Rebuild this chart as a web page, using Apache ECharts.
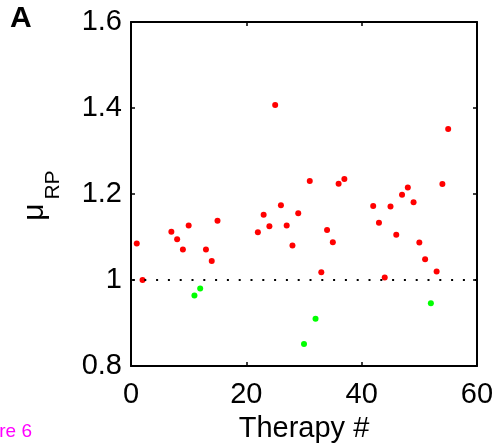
<!DOCTYPE html>
<html>
<head>
<meta charset="utf-8">
<script src="https://cdn.jsdelivr.net/npm/echarts@6/dist/echarts.min.js"></script>
<style>
  html, body { margin: 0; padding: 0; background: #fff; }
  #main { width: 498px; height: 448px; }
</style>
</head>
<body>
<div id="main"></div>
<script>
// therapies with mu_RP >= 1 (red)
const redTherapy = [1, 2, 7, 8, 9, 10, 13, 14, 15, 22, 23, 24, 25, 26, 27, 28, 29, 31, 33, 34, 35, 36, 37,
  42, 43, 44, 45, 46, 47, 48, 49, 50, 51, 53, 54, 55];
const redMu = [1.085, 1.0, 1.112, 1.095, 1.071, 1.127, 1.071, 1.044, 1.138, 1.111, 1.152, 1.125, 1.407, 1.174,
  1.127, 1.08, 1.155, 1.23, 1.018, 1.116, 1.088, 1.224, 1.235,
  1.172, 1.133, 1.006, 1.171, 1.105, 1.198, 1.215, 1.181, 1.087, 1.048, 1.02, 1.223, 1.351];
// therapies with mu_RP < 1 (green)
const greenTherapy = [11, 12, 30, 32, 52];
const greenMu = [0.964, 0.98, 0.851, 0.91, 0.946];

const xTicks = [0, 60, 20];   // min, max, interval
const yTicks = [0.8, 1.6, 0.2];
const refLine = 1;

const font = 'Liberation Sans, Arial, Helvetica, sans-serif';
const chart = echarts.init(document.getElementById('main'), null, { renderer: 'canvas' });

function pairs(xs, ys) {
  return xs.map((x, i) => [x, ys[i]]);
}

const boxAxis = {
  axisLine: { show: true, onZero: false, lineStyle: { color: '#000', width: 2 } },
  axisTick: { show: true, inside: true, length: 4, lineStyle: { color: '#000', width: 1.5 } },
  splitLine: { show: false }
};

chart.setOption({
  animation: false,
  backgroundColor: '#fff',
  grid: { left: 131, right: 21, top: 22, bottom: 81 },
  xAxis: [
    Object.assign({
      type: 'value', min: xTicks[0], max: xTicks[1], interval: xTicks[2],
      name: 'Therapy #', nameLocation: 'middle', nameGap: 48,
      nameTextStyle: { fontFamily: font, fontSize: 29, color: '#000' },
      axisLabel: { fontFamily: font, fontSize: 29, color: '#000', margin: 14 }
    }, boxAxis),
    Object.assign({
      type: 'value', position: 'top', min: xTicks[0], max: xTicks[1], interval: xTicks[2],
      axisLabel: { show: false }
    }, boxAxis)
  ],
  yAxis: [
    Object.assign({
      type: 'value', min: yTicks[0], max: yTicks[1], interval: yTicks[2],
      axisLabel: { fontFamily: font, fontSize: 29, color: '#000', margin: 9 }
    }, boxAxis),
    Object.assign({
      type: 'value', position: 'right', min: yTicks[0], max: yTicks[1], interval: yTicks[2],
      axisLabel: { show: false }
    }, boxAxis)
  ],
  graphic: [
    { type: 'text', left: 10, top: 4,
      style: { text: 'A', fontFamily: font, fontSize: 30, fontWeight: 'bold', fill: '#000' } },
    { type: 'text', x: 35, y: 212, rotation: Math.PI / 2,
      style: { text: 'μ', fontFamily: font, fontSize: 30, fill: '#000', align: 'center', verticalAlign: 'middle' } },
    { type: 'text', x: 53, y: 185, rotation: Math.PI / 2,
      style: { text: 'RP', fontFamily: font, fontSize: 21, fill: '#000', align: 'center', verticalAlign: 'middle' } },
    { type: 'text', x: 32, y: 432,
      style: { text: 'Figure 6', fontFamily: font, fontSize: 19, fill: '#ff00ff', align: 'right', verticalAlign: 'middle' } }
  ],
  series: [
    {
      type: 'scatter', xAxisIndex: 0, yAxisIndex: 0,
      symbolSize: 6, itemStyle: { color: '#ff0000', opacity: 1 },
      data: pairs(redTherapy, redMu),
      markLine: {
        silent: true, symbol: 'none', label: { show: false },
        lineStyle: { color: '#000', width: 2, type: [2, 9.8], dashOffset: -1.5 },
        data: [{ yAxis: refLine }]
      }
    },
    {
      type: 'scatter', xAxisIndex: 0, yAxisIndex: 0,
      symbolSize: 6, itemStyle: { color: '#00ff00', opacity: 1 },
      data: pairs(greenTherapy, greenMu)
    }
  ]
});
</script>
</body>
</html>
